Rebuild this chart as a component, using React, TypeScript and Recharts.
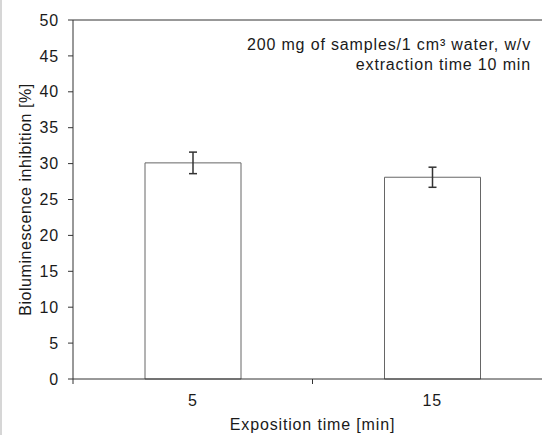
import { BarChart, Bar, XAxis, YAxis, ErrorBar, ReferenceLine } from "recharts";

const categories = ["5", "15"];
const inhibition = [30.1, 28.1];
const errors = [1.5, 1.4];
const yTicks = [0, 5, 10, 15, 20, 25, 30, 35, 40, 45, 50];

const data = categories.map((time, i) => ({ time, value: inhibition[i], err: errors[i] }));

const FONT = "'Liberation Sans', Arial, sans-serif";
const INK = "#333";
const TEXT = "#1a1a1a";
const TICK_SIZE = 5;
const TICK_MARGIN = 11;

// category label plus tick marks on the band boundaries (Excel style)
function XTick(props: any) {
  const { x, y, payload, index } = props;
  const off = payload?.offset ?? 0;
  const axisY = y - TICK_SIZE - TICK_MARGIN;
  const last = index === categories.length - 1;
  return (
    <g>
      <line x1={x - off} x2={x - off} y1={axisY} y2={axisY + TICK_SIZE} stroke={INK} />
      {last && <line x1={x + off} x2={x + off} y1={axisY} y2={axisY + TICK_SIZE} stroke={INK} />}
      <text x={x} y={y} dy="0.71em" textAnchor="middle" fontSize={16} fill={TEXT} style={{ letterSpacing: 0.85 }}>
        {payload.value}
      </text>
    </g>
  );
}

export default function App() {
  return (
    <div
      style={{
        position: "absolute",
        left: 0,
        top: 0,
        width: 542,
        height: 435,
        overflow: "hidden",
        background: "#fff",
        fontFamily: FONT,
      }}
    >
      <div style={{ position: "absolute", left: 0, top: 0, width: 2, height: 435, background: "#d6d6d6" }} />
      <BarChart width={560} height={435} data={data} margin={{ top: 20, right: 8, left: 0, bottom: 0 }}>
        <XAxis
          dataKey="time"
          height={56}
          axisLine={{ stroke: INK }}
          tickLine={false}
          tickSize={TICK_SIZE}
          tickMargin={TICK_MARGIN}
          interval={0}
          tick={<XTick />}
          label={{
            value: "Exposition time [min]",
            position: "insideBottom",
            offset: 5,
            fontSize: 16,
            fill: TEXT,
            style: { letterSpacing: 0.85 },
          }}
        />
        <YAxis
          width={73}
          domain={[0, 50]}
          ticks={yTicks}
          interval={0}
          axisLine={{ stroke: INK }}
          tickLine={{ stroke: INK }}
          tickSize={TICK_SIZE}
          tickMargin={9}
          tick={{ fontSize: 16, fill: TEXT, style: { letterSpacing: 0.85 } }}
          label={{
            value: "Bioluminescence inhibition [%]",
            angle: -90,
            position: "center",
            dx: -11,
            fontSize: 16,
            fill: TEXT,
            style: { letterSpacing: 0.55 },
          }}
        />
        <ReferenceLine y={50} stroke={INK} />
        <Bar dataKey="value" fill="#fff" stroke="#666" barSize={96} isAnimationActive={false}>
          <ErrorBar dataKey="err" width={4} stroke={INK} direction="y" isAnimationActive={false} />
        </Bar>
      </BarChart>
      <div
        style={{
          position: "absolute",
          right: 11,
          top: 35,
          textAlign: "right",
          fontSize: 16,
          lineHeight: "20px",
          color: TEXT,
          letterSpacing: 0.85,
        }}
      >
        200 mg of samples/1 cm³ water, w/v
        <br />
        extraction time 10 min
      </div>
    </div>
  );
}
